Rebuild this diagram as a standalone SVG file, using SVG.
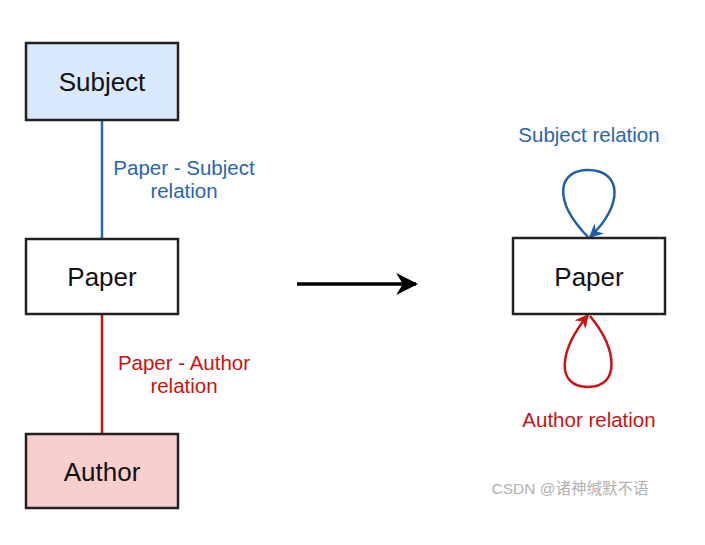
<svg xmlns="http://www.w3.org/2000/svg" width="705" height="545" viewBox="0 0 705 545">
<style>
.box{stroke:#222;stroke-width:2.5}
.nt{font-family:"Liberation Sans",Arial,sans-serif;font-size:26px;fill:#111;text-anchor:middle}
.lb{font-family:"Liberation Sans",Arial,sans-serif;font-size:20.5px;text-anchor:middle}
.blue{fill:#2a66ae}
.red{fill:#cc1111}
</style>
<defs>
<marker id="ab" viewBox="0 0 10 10" refX="9" refY="5" markerWidth="14" markerHeight="14" orient="auto" markerUnits="userSpaceOnUse">
<path d="M0,0 L10,5 L0,10 L3,5 Z" fill="#1f5fa8"/>
</marker>
<marker id="ar" viewBox="0 0 10 10" refX="9" refY="5" markerWidth="14" markerHeight="14" orient="auto" markerUnits="userSpaceOnUse">
<path d="M0,0 L10,5 L0,10 L3,5 Z" fill="#cc1111"/>
</marker>
<marker id="ak" viewBox="0 0 10 10" refX="9" refY="5" markerWidth="22" markerHeight="22" orient="auto" markerUnits="userSpaceOnUse">
<path d="M0,0 L10,5 L0,10 L3,5 Z" fill="#000"/>
</marker>
</defs>
<rect width="705" height="545" fill="#fff"/>
<g id="connectors" fill="none">
<line x1="102" y1="120" x2="102" y2="239" stroke="#2a66ae" stroke-width="2.5"/>
<line x1="102" y1="314" x2="102" y2="434" stroke="#cc1111" stroke-width="2.5"/>
<line x1="297" y1="284" x2="416" y2="284" stroke="#000" stroke-width="3.5" marker-end="url(#ak)"/>
<path d="M588 237 C 552 200, 558 170, 588 170 C 622 170, 624 205, 590 237" stroke="#1f5fa8" stroke-width="2.5" marker-end="url(#ab)"/>
<path d="M590 316 C 618 350, 620 387, 588 387 C 556 387, 558 352, 588 315" stroke="#cc1111" stroke-width="2.5" marker-end="url(#ar)"/>
</g>
<g id="subject">
<rect class="box" x="26" y="43" width="152" height="77" fill="#dae8fc"/>
<text class="nt" x="102" y="91">Subject</text>
</g>
<g id="paper-left">
<rect class="box" x="26" y="239" width="152" height="75" fill="#fff"/>
<text class="nt" x="102" y="286">Paper</text>
</g>
<g id="author">
<rect class="box" x="26" y="434" width="152" height="74" fill="#f8cecc"/>
<text class="nt" x="102" y="481">Author</text>
</g>
<g id="paper-right">
<rect class="box" x="513" y="238" width="152" height="76" fill="#fff"/>
<text class="nt" x="589" y="286">Paper</text>
</g>
<g id="labels">
<text class="lb blue" x="184" y="175">Paper - Subject</text>
<text class="lb blue" x="184" y="198">relation</text>
<text class="lb red" x="184" y="370">Paper - Author</text>
<text class="lb red" x="184" y="393">relation</text>
<text class="lb blue" x="589" y="142">Subject relation</text>
<text class="lb red" x="589" y="427">Author relation</text>
<text x="570" y="494" font-family="'Liberation Sans','Noto Sans CJK SC',sans-serif" font-size="15.5" fill="#b0b0b0" text-anchor="middle">CSDN @诸神缄默不语</text>
</g>
</svg>
